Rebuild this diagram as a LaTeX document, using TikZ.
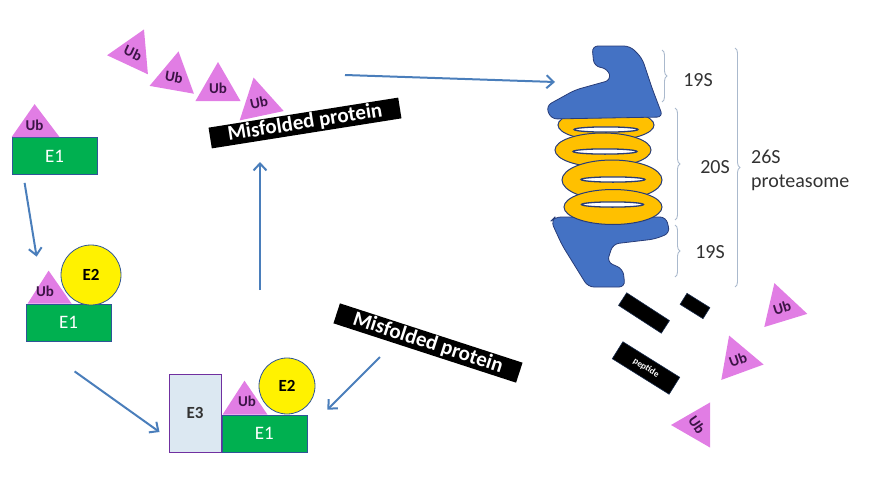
\documentclass[tikz,border=0pt]{standalone}
\usepackage{fontspec}
\setmainfont{Carlito}
\usetikzlibrary{arrows.meta,shapes.geometric,decorations.pathreplacing}

\definecolor{ubpink}{RGB}{225,125,228}
\definecolor{ubtext}{RGB}{60,20,70}
\definecolor{egreen}{RGB}{0,176,80}
\definecolor{eedge}{RGB}{47,85,151}
\definecolor{paleblue}{RGB}{220,232,242}
\definecolor{epurple}{RGB}{112,48,160}
\definecolor{capblue}{RGB}{68,114,196}
\definecolor{ringgold}{RGB}{255,192,0}
\definecolor{ringedge}{RGB}{40,60,120}
\definecolor{flowblue}{RGB}{74,126,187}
\definecolor{bracegray}{RGB}{170,185,205}
\definecolor{labelgray}{RGB}{50,50,50}

\tikzset{
  ub/.style={regular polygon, regular polygon sides=3, fill=ubpink, minimum size=52pt,
    inner sep=0pt, text=ubtext, font=\fontsize{15}{15}\selectfont\bfseries},
  ubtag/.style={text=ubtext, font=\fontsize{15}{15}\selectfont\bfseries, inner sep=0pt},
  eone/.style={draw=eedge, fill=egreen, line width=0.8pt, minimum width=85pt,
    minimum height=37pt, text=white, font=\fontsize{19}{19}\selectfont},
  etwo/.style={circle, draw=eedge, fill=yellow, line width=0.8pt, minimum size=56pt,
    inner sep=0pt, font=\fontsize{17}{17}\selectfont\bfseries},
  ethree/.style={draw=epurple, fill=paleblue, line width=1pt, minimum width=52pt,
    minimum height=78pt, text=labelgray, font=\fontsize{17}{17}\selectfont\bfseries},
  tag/.style={fill=black, text=white, font=\fontsize{21}{21}\selectfont\bfseries,
    minimum width=192pt, minimum height=21pt, inner sep=1pt},
  frag/.style={fill=black, draw=eedge!50!black, line width=0.6pt, inner sep=0pt},
  flow/.style={draw=flowblue, line width=2pt, -{Straight Barb[length=7pt,width=13pt]}},
  part/.style={draw=bracegray, line width=0.9pt, decorate, decoration={brace, amplitude=5pt}},
  unit/.style={text=labelgray, font=\fontsize{20}{24}\selectfont, inner sep=0pt},
  capshape/.style={fill=capblue, draw=ringedge, line width=0.8pt, rounded corners=6pt},
}

\begin{document}
\begin{tikzpicture}[x=1pt,y=-1pt]
\useasboundingbox (0,0) rectangle (886,482);

% ubiquitin chain on the misfolded protein
\node[ub,rotate=-25] (ub1) at (133,53) {Ub};
\node[ub,rotate=-10] (ub2) at (174,77) {Ub};
\node[ub] (ub3) at (218,88) {Ub};
\node[ub,rotate=12] (ub4) at (259,103) {Ub};
\node[tag,rotate=9] (mp1) at (305,123) {Misfolded protein};

% E1 with Ub
\node[eone] (e1a) at (54.5,156) {E1};
\fill[ubpink] (e1a.north west) -- ++(23,-33) -- ++(25,33) -- cycle;
\node[ubtag] (uba) at ([xshift=23pt,yshift=12pt]e1a.north west) {Ub};

% E1 + E2
\node[eone] (e1b) at (68.5,322.5) {E1};
\fill[ubpink] ([xshift=2pt]e1b.north west) -- ++(21,-33) -- ++(23,33) -- cycle;
\node[ubtag] (ubb) at (45,291) {Ub};
\node[etwo,minimum size=60pt] (e2b) at (91,275) {E2};

% E3 complex
\node[ethree] (e3) at (195,413) {E3};
\node[eone,anchor=south west] (e1c) at (e3.south east) {E1};
\fill[ubpink] ([xshift=1pt]e1c.north west) -- ++(22,-34) -- ++(23,34) -- cycle;
\node[ubtag] (ubc) at (247,401) {Ub};
\node[etwo] (e2c) at (287,386) {E2};

\node[tag,rotate=-18] (mp2) at (428,343) {Misfolded protein};

% arrows
\coordinate (rise) at (260,290);
\coordinate (leave) at (345,75);
\coordinate (enter) at (555,82);
\draw[flow] ([xshift=13pt,yshift=-8pt]e1a.south west) -- ([xshift=11pt,yshift=47pt]e1b.north west);
\draw[flow] ([xshift=49pt,yshift=-30pt]e1b.south west) -- ([xshift=-9pt,yshift=-19pt]e3.west);
\draw[flow] (rise) -- ([xshift=-45pt,yshift=-39pt]mp1.center);
\draw[flow] ([xshift=-48pt,yshift=-14pt]mp2.center) -- ([xshift=20pt,yshift=5pt]e1c.north east);
\draw[flow] (leave) -- (enter);

% lower 19S cap
\draw[capshape] (555,217) -- (666,217) -- (670,233) -- (655,239) -- (613,244) -- (607,262)
  -- (623,269) -- (625,287) -- (588,287) -- (562,245) -- (551,221) -- cycle;

% 20S rings
\foreach \cx/\cy/\rx/\ry/\hx/\hy/\hr in {606/125/48/15.5/606/129.5/32, 603/150/48/17/605/151.5/32,
    612/180/50/20/613/179.5/32, 613/207/49/17.5/612.5/204.5/31}
{
  \draw[ringedge,fill=ringgold,line width=1pt] (\cx,\cy) ellipse [x radius=\rx, y radius=\ry];
  \draw[ringedge,fill=white,line width=1.3pt] (\hx,\hy) ellipse [x radius=\hr, y radius=2.6];
}

% upper 19S cap
\draw[capshape] (592,46) -- (630,46) -- (642,58) -- (652,88) -- (663,117) -- (551,119)
  -- (546,106) -- (575,90) -- (611,80) -- (608,69) -- (594,66) -- cycle;

% subunit braces
\draw[part] (662,50) -- (662,102);
\draw[part] (675,108) -- (675,220);
\draw[part] (675,225) -- (675,277);
\draw[part] (735,48) -- (735,287);
\node[unit] (s19top) at (698,80) {19S};
\node[unit] (s20) at (715,167) {20S};
\node[unit] (s19bot) at (710,252) {19S};
\node[unit,anchor=west,align=left] (s26) at (751,170) {26S\\proteasome};

% degradation products
\node[frag,minimum width=51pt,minimum height=15pt,rotate=-33] (pep1) at (644,313) {};
\node[frag,minimum width=27pt,minimum height=13pt,rotate=-32] (pep2) at (695,306) {};
\node[frag,minimum width=67pt,minimum height=20pt,rotate=-32,text=white,
  font=\fontsize{9}{9}\selectfont\bfseries] (pep3) at (646,368) {peptide};
\node[ub,rotate=17] (ub5) at (782,308) {Ub};
\node[ub,rotate=20] (ub6) at (738,360) {Ub};
\node[ub,rotate=-55,shape border rotate=145] (ub7) at (697,425) {Ub};
\end{tikzpicture}
\end{document}
